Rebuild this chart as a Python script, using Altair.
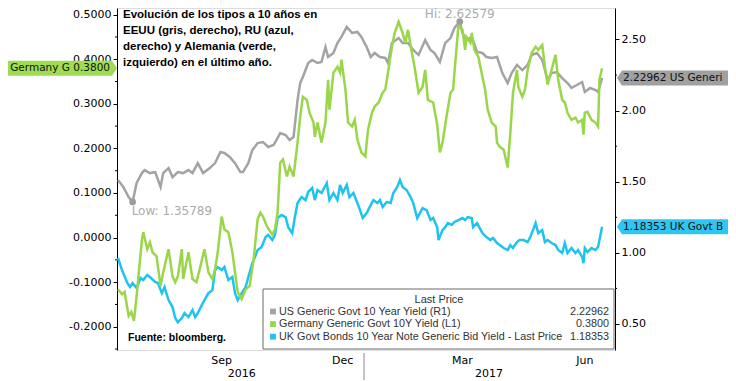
import altair as alt
import pandas as pd

# ---------------- data ----------------
us_dates = ["2016-06-30","2016-07-04","2016-07-08","2016-07-11","2016-07-14","2016-07-18","2016-07-20","2016-07-24","2016-07-28","2016-08-01",
            "2016-08-03","2016-08-07","2016-08-10","2016-08-14","2016-08-18","2016-08-22","2016-08-25","2016-08-29","2016-09-02","2016-09-07",
            "2016-09-11","2016-09-15","2016-09-18","2016-09-22","2016-09-26","2016-09-30","2016-10-02","2016-10-06","2016-10-09","2016-10-13",
            "2016-10-17","2016-10-21","2016-10-25","2016-10-30","2016-11-03","2016-11-06","2016-11-09","2016-11-12","2016-11-14","2016-11-16",
            "2016-11-20","2016-11-23","2016-11-27","2016-11-30","2016-12-03","2016-12-05","2016-12-09","2016-12-12","2016-12-15","2016-12-19",
            "2016-12-23","2016-12-27","2016-12-30","2017-01-03","2017-01-06","2017-01-09","2017-01-13","2017-01-17","2017-01-19","2017-01-22",
            "2017-01-27","2017-01-30","2017-02-03","2017-02-07","2017-02-11","2017-02-16","2017-02-20","2017-02-23","2017-02-27","2017-03-03",
            "2017-03-07","2017-03-10","2017-03-14","2017-03-16","2017-03-19","2017-03-23","2017-03-27","2017-03-31","2017-04-03","2017-04-07",
            "2017-04-11","2017-04-15","2017-04-19","2017-04-22","2017-04-26","2017-04-30","2017-05-04","2017-05-07","2017-05-11","2017-05-15",
            "2017-05-19","2017-05-22","2017-05-26","2017-05-30","2017-06-03","2017-06-06","2017-06-10","2017-06-14","2017-06-16","2017-06-20",
            "2017-06-24","2017-06-26","2017-06-29"]
us_values = [1.512,1.463,1.392,1.358,1.491,1.561,1.582,1.561,1.568,1.463,
             1.561,1.596,1.533,1.568,1.561,1.582,1.561,1.631,1.561,1.596,
             1.631,1.709,1.702,1.674,1.631,1.568,1.568,1.631,1.723,1.772,
             1.779,1.744,1.758,1.842,1.828,1.793,1.814,2.074,2.194,2.236,
             2.335,2.356,2.335,2.342,2.447,2.377,2.405,2.475,2.518,2.588,
             2.546,2.553,2.518,2.447,2.377,2.405,2.377,2.370,2.335,2.475,
             2.510,2.475,2.475,2.426,2.391,2.496,2.426,2.405,2.342,2.475,
             2.510,2.581,2.626,2.546,2.496,2.518,2.412,2.405,2.377,2.370,
             2.377,2.264,2.194,2.264,2.321,2.285,2.321,2.391,2.405,2.356,
             2.215,2.264,2.271,2.229,2.194,2.159,2.180,2.201,2.131,2.159,
             2.145,2.131,2.2296]

de_dates = ["2016-06-30","2016-07-03","2016-07-05","2016-07-08","2016-07-10","2016-07-12","2016-07-14","2016-07-18","2016-07-19","2016-07-22",
            "2016-07-24","2016-07-26","2016-07-29","2016-08-01","2016-08-03","2016-08-07","2016-08-10","2016-08-12","2016-08-14","2016-08-17",
            "2016-08-18","2016-08-22","2016-08-25","2016-08-28","2016-08-31","2016-09-03","2016-09-06","2016-09-09","2016-09-11","2016-09-13",
            "2016-09-16","2016-09-18","2016-09-21","2016-09-24","2016-09-26","2016-09-28","2016-10-01","2016-10-04","2016-10-07","2016-10-10",
            "2016-10-13","2016-10-15","2016-10-17","2016-10-20","2016-10-24","2016-10-26","2016-10-28","2016-10-30","2016-11-01","2016-11-04",
            "2016-11-06","2016-11-09","2016-11-12","2016-11-14","2016-11-16","2016-11-19","2016-11-21","2016-11-24","2016-11-25","2016-11-27",
            "2016-11-30","2016-12-03","2016-12-05","2016-12-06","2016-12-09","2016-12-12","2016-12-14","2016-12-15","2016-12-18","2016-12-20",
            "2016-12-23","2016-12-25","2016-12-27","2016-12-30","2017-01-02","2017-01-04","2017-01-07","2017-01-09","2017-01-12","2017-01-15",
            "2017-01-17","2017-01-19","2017-01-22","2017-01-24","2017-01-27","2017-01-30","2017-02-01","2017-02-03","2017-02-06","2017-02-08",
            "2017-02-11","2017-02-14","2017-02-16","2017-02-18","2017-02-22","2017-02-25","2017-02-27","2017-03-01","2017-03-04","2017-03-07",
            "2017-03-09","2017-03-10","2017-03-13","2017-03-16","2017-03-18","2017-03-19","2017-03-22","2017-03-23","2017-03-25","2017-03-28",
            "2017-03-31","2017-04-02","2017-04-04","2017-04-07","2017-04-10","2017-04-11","2017-04-13","2017-04-16","2017-04-19","2017-04-21",
            "2017-04-23","2017-04-26","2017-04-27","2017-04-30","2017-05-02","2017-05-04","2017-05-07","2017-05-10","2017-05-12","2017-05-15",
            "2017-05-17","2017-05-19","2017-05-22","2017-05-25","2017-05-27","2017-05-30","2017-06-01","2017-06-03","2017-06-06","2017-06-09",
            "2017-06-11","2017-06-14","2017-06-15","2017-06-16","2017-06-18","2017-06-21","2017-06-24","2017-06-26","2017-06-27","2017-06-29"]
de_values = [-0.116,-0.127,-0.122,-0.176,-0.167,-0.187,-0.131,-0.004,0.012,-0.026,
             -0.011,-0.033,-0.042,-0.109,-0.078,-0.026,-0.087,-0.100,-0.087,-0.026,
             -0.093,-0.033,-0.093,-0.100,-0.064,-0.026,-0.078,-0.093,-0.071,-0.033,
             0.047,0.018,0.012,-0.033,-0.078,-0.122,-0.138,-0.116,-0.109,-0.049,
             0.041,0.056,0.047,0.025,0.007,0.018,0.056,0.168,0.175,0.137,
             0.159,0.137,0.213,0.271,0.316,0.309,0.280,0.258,0.226,0.258,
             0.213,0.258,0.354,0.287,0.370,0.383,0.370,0.399,0.332,0.258,
             0.249,0.264,0.220,0.191,0.182,0.242,0.280,0.294,0.303,0.325,
             0.332,0.370,0.428,0.459,0.484,0.459,0.437,0.466,0.414,0.383,
             0.325,0.338,0.376,0.309,0.303,0.253,0.191,0.213,0.271,0.325,
             0.332,0.370,0.477,0.466,0.421,0.450,0.437,0.459,0.421,0.405,
             0.361,0.332,0.287,0.258,0.249,0.213,0.204,0.197,0.157,0.235,
             0.325,0.376,0.338,0.316,0.332,0.376,0.414,0.428,0.421,0.432,
             0.383,0.343,0.376,0.410,0.354,0.309,0.303,0.280,0.264,0.269,
             0.258,0.264,0.231,0.280,0.282,0.264,0.258,0.249,0.354,0.380]

uk_dates = ["2016-06-30","2016-07-03","2016-07-07","2016-07-09","2016-07-11","2016-07-14","2016-07-17","2016-07-19","2016-07-22","2016-07-24",
            "2016-07-28","2016-07-30","2016-08-02","2016-08-04","2016-08-07","2016-08-10","2016-08-12","2016-08-14","2016-08-17","2016-08-19",
            "2016-08-22","2016-08-25","2016-08-27","2016-08-29","2016-09-01","2016-09-03","2016-09-06","2016-09-09","2016-09-11","2016-09-13",
            "2016-09-16","2016-09-18","2016-09-21","2016-09-24","2016-09-26","2016-09-28","2016-10-01","2016-10-04","2016-10-06","2016-10-09",
            "2016-10-11","2016-10-13","2016-10-16","2016-10-19","2016-10-21","2016-10-24","2016-10-26","2016-10-28","2016-10-31","2016-11-03",
            "2016-11-05","2016-11-08","2016-11-10","2016-11-12","2016-11-15","2016-11-18","2016-11-20","2016-11-23","2016-11-25","2016-11-27",
            "2016-11-30","2016-12-04","2016-12-06","2016-12-09","2016-12-12","2016-12-14","2016-12-16","2016-12-19","2016-12-21","2016-12-24",
            "2016-12-27","2016-12-29","2016-12-31","2017-01-03","2017-01-06","2017-01-08","2017-01-11","2017-01-13","2017-01-15","2017-01-18",
            "2017-01-21","2017-01-23","2017-01-26","2017-01-28","2017-01-30","2017-02-02","2017-02-05","2017-02-07","2017-02-10","2017-02-12",
            "2017-02-14","2017-02-17","2017-02-20","2017-02-22","2017-02-25","2017-02-26","2017-03-01","2017-03-03","2017-03-05","2017-03-08",
            "2017-03-10","2017-03-13","2017-03-16","2017-03-18","2017-03-20","2017-03-23","2017-03-24","2017-03-27","2017-03-29","2017-03-31",
            "2017-04-03","2017-04-06","2017-04-08","2017-04-11","2017-04-13","2017-04-16","2017-04-19","2017-04-21","2017-04-23","2017-04-26",
            "2017-04-28","2017-05-01","2017-05-04","2017-05-06","2017-05-08","2017-05-10","2017-05-12","2017-05-15","2017-05-17","2017-05-19",
            "2017-05-22","2017-05-25","2017-05-27","2017-05-30","2017-06-01","2017-06-03","2017-06-06","2017-06-09","2017-06-11","2017-06-14",
            "2017-06-15","2017-06-16","2017-06-18","2017-06-21","2017-06-24","2017-06-26","2017-06-29"]
uk_values = [0.964,0.879,0.788,0.760,0.788,0.753,0.823,0.809,0.844,0.830,
             0.795,0.788,0.717,0.760,0.668,0.619,0.542,0.513,0.542,0.577,
             0.549,0.598,0.549,0.577,0.633,0.668,0.717,0.738,0.879,0.900,
             0.879,0.900,0.809,0.830,0.717,0.668,0.717,0.760,0.830,0.928,
             0.971,1.020,1.041,1.111,1.125,1.090,1.125,1.245,1.266,1.252,
             1.181,1.139,1.252,1.350,1.392,1.371,1.428,1.456,1.371,1.442,
             1.421,1.491,1.371,1.421,1.371,1.477,1.421,1.477,1.392,1.421,
             1.350,1.301,1.245,1.280,1.336,1.371,1.350,1.371,1.322,1.357,
             1.350,1.421,1.463,1.512,1.463,1.442,1.392,1.350,1.245,1.280,
             1.315,1.301,1.231,1.245,1.181,1.090,1.160,1.181,1.210,1.196,
             1.217,1.231,1.245,1.231,1.252,1.245,1.181,1.210,1.174,1.139,
             1.111,1.090,1.104,1.069,1.055,1.034,1.020,1.055,1.034,1.076,
             1.090,1.090,1.076,1.111,1.160,1.210,1.139,1.160,1.076,1.090,
             1.069,1.055,1.020,0.999,1.069,0.999,1.034,0.999,1.020,0.971,
             0.928,1.034,1.006,1.034,1.020,1.041,1.18353]

left_major = [-0.2,-0.1,0.0,0.1,0.2,0.3,0.4,0.5]
left_minor = [-0.25,-0.15,-0.05,0.05,0.15,0.25,0.35,0.45]
right_major = [0.5,1.0,1.5,2.0,2.5]
right_minor = [0.75,1.25,1.75,2.25]
month_starts = ["2016-07-01","2016-08-01","2016-09-01","2016-10-01","2016-11-01","2016-12-01","2017-01-01",
                "2017-02-01","2017-03-01","2017-04-01","2017-05-01","2017-06-01","2017-07-01"]
month_labels = ["Sep","Dec","Mar","Jun"]
month_label_dates = ["2016-09-16","2016-12-16","2017-03-16","2017-06-16"]
year_labels = ["2016","2017"]
year_label_dates = ["2016-10-01","2017-04-05"]
year_break = ["2017-01-01"]

hi_date, hi_value, hi_text = ["2017-03-14"], [2.62579], ["Hi: 2.62579"]
low_date, low_value, low_text = ["2016-07-11"], [1.35789], ["Low: 1.35789"]

de_tag_value, de_tag_text = [0.3800], ["Germany G 0.3800"]
right_tag_values = [2.22962, 1.18353]
right_tag_texts = ["2.22962 US Generi", "1.18353 UK Govt B"]

legend_names = ["US Generic Govt 10 Year Yield  (R1)",
                "Germany Generic Govt 10Y Yield  (L1)",
                "UK Govt Bonds 10 Year Note Generic Bid Yield - Last Price"]
legend_last = ["2.22962", "0.3800", "1.18353"]

note_text = "Evolución de los tipos a 10 años en\nEEUU (gris, derecho), RU (azul,\nderecho) y Alemania (verde,\nizquierdo) en el último año."
source_text = "Fuente: bloomberg."

# ---------------- style ----------------
GRAY = "#a3a3a3"
GREEN = "#9ad64a"
BLUE = "#1ec3f2"
TAG_GRAY = "#a0a0a0"
TAG_GREEN = "#9edc52"
TAG_BLUE = "#2ec6f4"
TXT_GRAY = "#ababab"
legend_colors = [GRAY, GREEN, BLUE]
right_tag_colors = [TAG_GRAY, TAG_BLUE]

GW, GH = 498, 342
FONT = "DejaVu Sans"


def ms(s):
    return int(pd.Timestamp(s).value // 10**6)


x_scale = alt.Scale(domain=[ms("2016-06-29T06:00"), ms("2017-07-08T17:00")])
yl = alt.Scale(domain=[-0.2522, 0.515], nice=False, zero=False)
yr = alt.Scale(domain=[0.3172, 2.7214], nice=False, zero=False)

one = pd.DataFrame({"k": [0]})

left_axis = alt.Axis(orient="left", values=left_major, title=None, grid=False,
                     labelExpr="(datum.value < 0 ? '-' : '') + format(abs(datum.value), '.4f')",
                     tickSize=4, tickColor="#000", domainColor="#000", labelFont=FONT, labelFontSize=11,
                     labelColor="#000", labelPadding=2)
right_axis = alt.Axis(orient="right", values=right_major, title=None, grid=False, format=".2f",
                      tickSize=4, tickColor="#000", domainColor="#000", labelFont=FONT, labelFontSize=11,
                      labelColor="#000", labelPadding=2)
x_axis = alt.Axis(values=[ms(d) for d in month_starts], labels=False, title=None, grid=False,
                  tickSize=4, tickColor="#000", domainColor="#000")

# ---------------- lines ----------------
us_df = pd.DataFrame({"date": us_dates, "value": us_values})
uk_df = pd.DataFrame({"date": uk_dates, "value": uk_values})
de_df = pd.DataFrame({"date": de_dates, "value": de_values})

uk_line = alt.Chart(uk_df).mark_line(color=BLUE, strokeWidth=2.5).encode(
    x=alt.X("date:T", scale=x_scale, axis=None),
    y=alt.Y("value:Q", scale=yr, axis=None))
us_line = alt.Chart(us_df).mark_line(color=GRAY, strokeWidth=2.5).encode(
    x=alt.X("date:T", scale=x_scale, axis=x_axis),
    y=alt.Y("value:Q", scale=yr, axis=right_axis))
de_line = alt.Chart(de_df).mark_line(color=GREEN, strokeWidth=2.5).encode(
    x=alt.X("date:T", scale=x_scale, axis=None),
    y=alt.Y("value:Q", scale=yl, axis=left_axis))

# minor ticks (shorter), placed through the y scales
lmin = alt.Chart(pd.DataFrame({"v": left_minor})).mark_rule(color="#000", strokeWidth=1).encode(
    y=alt.Y("v:Q", scale=yl, axis=None), x=alt.value(-2), x2=alt.value(0))
rmin = alt.Chart(pd.DataFrame({"v": right_minor})).mark_rule(color="#000", strokeWidth=1).encode(
    y=alt.Y("v:Q", scale=yr, axis=None), x=alt.value(GW), x2=alt.value(GW + 2))

# ---------------- tags ----------------
LEFT_TAG = "M -1 -0.134 L 0.911 -0.134 L 1 0 L 0.911 0.134 L -1 0.134 Z"
RIGHT_TAG = "M 1 -0.125 L -0.917 -0.125 L -1 0 L -0.917 0.125 L 1 0.125 Z"

de_tag_df = pd.DataFrame({"value": de_tag_value, "label": de_tag_text})
de_tag = alt.Chart(de_tag_df).mark_point(shape=LEFT_TAG, size=112 * 112, filled=True, color=TAG_GREEN,
                                         opacity=1, strokeWidth=0).encode(
    x=alt.value(-56), y=alt.Y("value:Q", scale=yl, axis=None))
de_tag_txt = alt.Chart(de_tag_df).mark_text(align="right", baseline="middle", font=FONT, fontSize=10.5,
                                            color="#111").encode(
    x=alt.value(-7), y=alt.Y("value:Q", scale=yl, axis=None), text="label:N")

rt_df = pd.DataFrame({"value": right_tag_values, "label": right_tag_texts, "c": right_tag_colors})
rt_tag = alt.Chart(rt_df).mark_point(shape=RIGHT_TAG, size=120 * 120, filled=True, opacity=1, strokeWidth=0).encode(
    x=alt.value(560), y=alt.Y("value:Q", scale=yr, axis=None), color=alt.Color("c:N", scale=None))
rt_txt = alt.Chart(rt_df).mark_text(align="left", baseline="middle", font=FONT, fontSize=10.5, color="#111").encode(
    x=alt.value(506), y=alt.Y("value:Q", scale=yr, axis=None), text="label:N")

# ---------------- hi / low ----------------
hi_df = pd.DataFrame({"date": hi_date, "value": hi_value, "label": hi_text})
low_df = pd.DataFrame({"date": low_date, "value": low_value, "label": low_text})
hl_df = pd.concat([hi_df, low_df])
hl_pts = alt.Chart(hl_df).mark_circle(size=45, color="#9c9c9c", opacity=1).encode(
    x=alt.X("date:T", scale=x_scale, axis=None), y=alt.Y("value:Q", scale=yr, axis=None))
hi_txt = alt.Chart(hi_df).mark_text(align="center", baseline="middle", dy=-8, font=FONT, fontSize=12,
                                    color=TXT_GRAY).encode(
    x=alt.X("date:T", scale=x_scale, axis=None), y=alt.Y("value:Q", scale=yr, axis=None), text="label:N")
low_txt = alt.Chart(low_df).mark_text(align="left", baseline="middle", dy=9, dx=-1, font=FONT, fontSize=12,
                                      color=TXT_GRAY).encode(
    x=alt.X("date:T", scale=x_scale, axis=None), y=alt.Y("value:Q", scale=yr, axis=None), text="label:N")

# ---------------- texts ----------------
note = alt.Chart(one).mark_text(align="left", baseline="top", lineBreak="\n", lineHeight=16,
                                font="Liberation Sans", fontSize=11.5, fontWeight="bold", color="#000").encode(
    x=alt.value(6), y=alt.value(1), text=alt.value(note_text))
source = alt.Chart(one).mark_text(align="left", baseline="middle", font="Liberation Sans", fontSize=10.5,
                                  fontWeight="bold", color="#000").encode(
    x=alt.value(11), y=alt.value(330), text=alt.value(source_text))

# ---------------- legend ----------------
leg_box = alt.Chart(one).mark_rect(fill="white", stroke="#6a6a6a", strokeWidth=1).encode(
    x=alt.value(146), x2=alt.value(497), y=alt.value(281), y2=alt.value(341))
leg_title = alt.Chart(one).mark_text(align="center", baseline="middle", font="Liberation Sans", fontSize=11,
                                     color="#333").encode(
    x=alt.value(322), y=alt.value(292), text=alt.value("Last Price"))
leg_layers = []
for i in range(len(legend_names)):
    row = pd.DataFrame({"name": [legend_names[i]], "last": [legend_last[i]], "c": [legend_colors[i]]})
    yy = 303.5 + i * 12.6
    leg_layers.append(alt.Chart(row).mark_square(size=34, opacity=1, filled=True).encode(
        x=alt.value(156), y=alt.value(yy), color=alt.Color("c:N", scale=None)))
    leg_layers.append(alt.Chart(row).mark_text(align="left", baseline="middle", font="Liberation Sans",
                                               fontSize=10.8, color="#333").encode(
        x=alt.value(162), y=alt.value(yy), text="name:N"))
    leg_layers.append(alt.Chart(row).mark_text(align="right", baseline="middle", font="Liberation Sans",
                                               fontSize=10.8, color="#333").encode(
        x=alt.value(492), y=alt.value(yy), text="last:N"))

# ---------------- bottom axis labels ----------------
ml_df = pd.DataFrame({"date": month_label_dates, "label": month_labels})
yl_df = pd.DataFrame({"date": year_label_dates, "label": year_labels})
yb_df = pd.DataFrame({"date": year_break})
month_txt = alt.Chart(ml_df).mark_text(align="center", baseline="alphabetic", font=FONT, fontSize=11,
                                       color="#000").encode(
    x=alt.X("date:T", scale=x_scale, axis=None), y=alt.value(GH + 14), text="label:N")
year_txt = alt.Chart(yl_df).mark_text(align="center", baseline="alphabetic", font=FONT, fontSize=11,
                                      color="#000").encode(
    x=alt.X("date:T", scale=x_scale, axis=None), y=alt.value(GH + 27), text="label:N")
year_rule = alt.Chart(yb_df).mark_rule(color="#8a8a8a", strokeWidth=1).encode(
    x=alt.X("date:T", scale=x_scale, axis=None), y=alt.value(GH + 3), y2=alt.value(GH + 30))

chart = alt.layer(
    uk_line, us_line, de_line, lmin, rmin,
    de_tag, de_tag_txt, rt_tag, rt_txt,
    hl_pts, hi_txt, low_txt, note, source,
    leg_box, leg_title, *leg_layers, month_txt, year_txt, year_rule,
).resolve_scale(y="independent").properties(
    width=GW, height=GH,
    padding={"left": 109, "right": 113, "top": 0, "bottom": 30},
    autosize=alt.AutoSizeParams(type="none"),
).configure_view(strokeWidth=0).configure(background="white")

chart.save("out.html", embed_options={"renderer": "svg", "actions": False})
